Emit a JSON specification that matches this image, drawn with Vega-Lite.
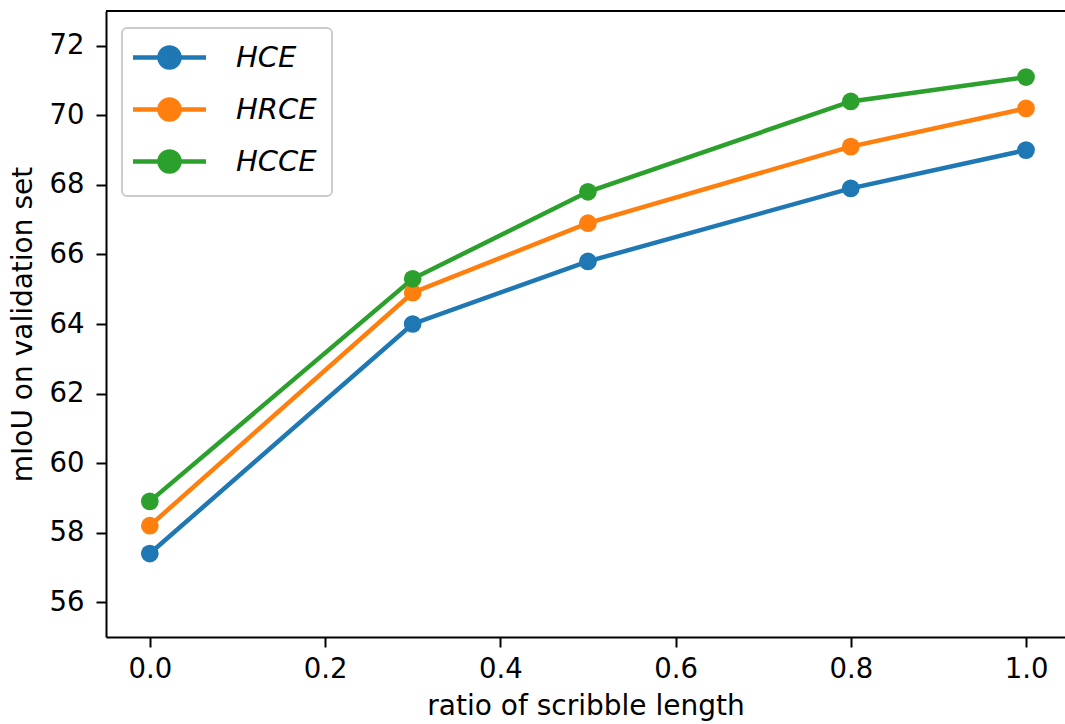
{
  "$schema": "https://vega.github.io/schema/vega-lite/v6.json",
  "autosize": {"type": "none"},
  "padding": {"left": 106, "top": 11, "right": 0, "bottom": 87},
  "width": 959,
  "height": 626,
  "background": "white",
  "config": {
    "view": {"stroke": null},
    "font": "DejaVu Sans",
    "axis": {
      "grid": false,
      "domainColor": "black",
      "domainWidth": 2,
      "tickColor": "black",
      "tickWidth": 2,
      "tickSize": 10,
      "labelFontSize": 27.5,
      "labelColor": "black",
      "titleFontSize": 28,
      "titleFontWeight": "normal",
      "titleColor": "black"
    }
  },
  "data": {
    "values": [
      {"ratio": 0.0, "miou": 57.4, "loss": "HCE"},
      {"ratio": 0.3, "miou": 64.0, "loss": "HCE"},
      {"ratio": 0.5, "miou": 65.8, "loss": "HCE"},
      {"ratio": 0.8, "miou": 67.9, "loss": "HCE"},
      {"ratio": 1.0, "miou": 69.0, "loss": "HCE"},
      {"ratio": 0.0, "miou": 58.2, "loss": "HRCE"},
      {"ratio": 0.3, "miou": 64.9, "loss": "HRCE"},
      {"ratio": 0.5, "miou": 66.9, "loss": "HRCE"},
      {"ratio": 0.8, "miou": 69.1, "loss": "HRCE"},
      {"ratio": 1.0, "miou": 70.2, "loss": "HRCE"},
      {"ratio": 0.0, "miou": 58.9, "loss": "HCCE"},
      {"ratio": 0.3, "miou": 65.3, "loss": "HCCE"},
      {"ratio": 0.5, "miou": 67.8, "loss": "HCCE"},
      {"ratio": 0.8, "miou": 70.4, "loss": "HCCE"},
      {"ratio": 1.0, "miou": 71.1, "loss": "HCCE"}
    ]
  },
  "layer": [
    {
      "mark": {"type": "line", "strokeWidth": 4.5, "point": {"filled": true, "size": 314, "opacity": 1}},
      "encoding": {
        "x": {
          "field": "ratio", "type": "quantitative",
          "scale": {"domain": [-0.05, 1.0445], "nice": false, "zero": false},
          "axis": {"values": [0, 0.2, 0.4, 0.6, 0.8, 1.0], "format": ".1f", "title": "ratio of scribble length", "labelPadding": 8, "titlePadding": 10}
        },
        "y": {
          "field": "miou", "type": "quantitative",
          "scale": {"domain": [55, 73], "nice": false, "zero": false},
          "axis": {"values": [56, 58, 60, 62, 64, 66, 68, 70, 72], "title": "mIoU on validation set", "labelPadding": 12, "titlePadding": 12}
        },
        "color": {
          "field": "loss", "type": "nominal",
          "scale": {"domain": ["HCE", "HRCE", "HCCE"], "range": ["#1f77b4", "#ff7f0e", "#2ca02c"]},
          "legend": {
            "orient": "none",
            "legendX": 16,
            "legendY": 17,
            "title": null,
            "strokeColor": "#cccccc",
            "fillColor": "white",
            "cornerRadius": 5,
            "padding": 15,
            "symbolType": "M-3.65,0H3.65M1,0A1,1 0 1,1 -1,0A1,1 0 1,1 1,0Z",
            "symbolSize": 400,
            "symbolOffset": 18,
            "symbolStrokeWidth": 4.5,
            "symbolOpacity": 1,
            "labelFontSize": 29,
            "labelFontStyle": "italic",
            "labelColor": "black",
            "labelOffset": 52,
            "rowPadding": 13,
            "labelLimit": 300,
            "encode": {
              "legend": {
                "update": {"strokeWidth": {"value": 2}}
              },
              "symbols": {
                "update": {
                  "fill": {"scale": "color", "field": "value"},
                  "stroke": {"scale": "color", "field": "value"}
                }
              }
            }
          }
        }
      }
    },
    {
      "mark": {"type": "rule", "color": "black", "strokeWidth": 2},
      "encoding": {"y": {"datum": 73}}
    }
  ]
}
